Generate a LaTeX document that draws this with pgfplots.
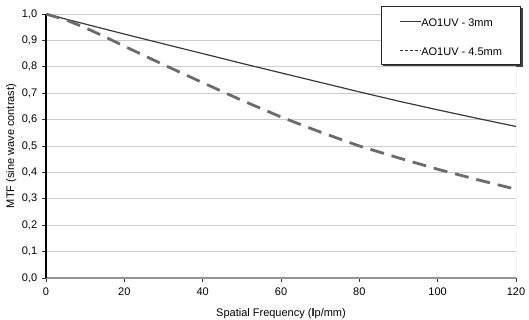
\documentclass[border=0pt]{standalone}
\usepackage{pgfplots}
\pgfplotsset{compat=1.18}
\usepackage{fontspec}
\setmainfont{Liberation Sans}
\usetikzlibrary{backgrounds}
\definecolor{solidc}{HTML}{3A3A3A}
\definecolor{dashc}{HTML}{6B6B6B}
\definecolor{gridc}{HTML}{CCCCCC}
\begin{document}
\fontsize{11bp}{13bp}\selectfont
\begin{tikzpicture}
\begin{axis}[
  scale only axis, width=470bp, height=264bp,
  xmin=0, xmax=120, ymin=0, ymax=1,
  xtick={0,20,40,60,80,100,120},
  ytick={0,0.1,0.2,0.3,0.4,0.5,0.6,0.7,0.8,0.9,1.0},
  axis x line*=bottom, axis y line*=left,
  x axis line style={-, draw=gray!85, line width=2bp},
  y axis line style={-, draw=black, line width=1.2bp},
  tick align=outside, major tick length=4bp,
  xtick style={draw=black!80, line width=0.8bp},
  ytick style={draw=black!80, line width=0.8bp},
  ymajorgrids, grid style={draw=gridc, line width=0.9bp},
  /pgf/number format/.cd, fixed, fixed zerofill, precision=1, use comma, assume math mode=true,
  /pgfplots/.cd,
  xticklabel={\pgfmathprintnumber[fixed, precision=0]{\tick}},
  xticklabel style={yshift=-2bp},
  yticklabel style={xshift=-1bp},
  xlabel={Spatial Frequency (\textbf{l}p/mm)},
  ylabel={MTF (sine wave contrast)},
  xlabel style={yshift=-5bp},
  ylabel style={yshift=-2bp},
  legend cell align=left,
  legend image code/.code={\draw[#1] (0bp,0bp) -- (21bp,0bp);},
  legend style={name=leg, at={(axis description cs:0.713,1.03)}, anchor=north west,
    draw=black!85, line width=0.8bp, fill=white,
    inner xsep=18bp, inner ysep=8bp, row sep=16bp,
    nodes={inner sep=0pt, text height=12bp, text depth=1bp}},
]
\coordinate (SW) at (rel axis cs:0,0);
\coordinate (NE) at (rel axis cs:1,1);
\draw[draw=gray!60, line width=0.9bp] (rel axis cs:1,0) -- (rel axis cs:1,1);
\addplot[solidc, line width=1.2bp, forget plot]
  coordinates {(0,1.000) (10,0.962) (20,0.924) (30,0.887) (40,0.850) (50,0.813) (60,0.777) (70,0.741) (80,0.705) (90,0.670) (100,0.637) (110,0.605) (120,0.574)};
\addplot[dashc, line width=2.8bp, dash pattern=on 14bp off 8bp, forget plot]
  coordinates {(0,1.000) (5,0.978) (10,0.948) (15,0.914) (20,0.878) (30,0.808) (40,0.740) (50,0.673) (60,0.610) (70,0.553) (80,0.500) (90,0.455) (100,0.412) (110,0.373) (120,0.336)};
\addlegendimage{solidc, line width=0.8bp}
\addlegendentry{AO1UV - 3mm}
\addlegendimage{solidc, line width=0.6bp, dash pattern=on 3bp off 2bp}
\addlegendentry{AO1UV - 4.5mm}
\end{axis}
\begin{scope}[on background layer]
\fill[black!75] ([xshift=2.2bp,yshift=-2.2bp]leg.south west) rectangle ([xshift=2.2bp,yshift=-2.2bp]leg.north east);
\end{scope}
\pgfresetboundingbox
\path[use as bounding box] ([xshift=-46bp,yshift=-42bp]SW) rectangle ([xshift=13bp,yshift=14bp]NE);
\end{tikzpicture}
\end{document}
